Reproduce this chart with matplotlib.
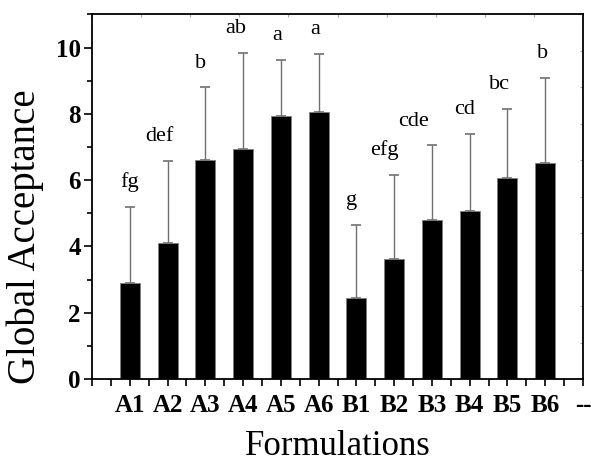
import numpy as np
import matplotlib
matplotlib.use("Agg")
import matplotlib.pyplot as plt
from matplotlib.ticker import FixedLocator

# Data
categories = ["A1", "A2", "A3", "A4", "A5", "A6", "B1", "B2", "B3", "B4", "B5", "B6"]
means = [2.89, 4.10, 6.62, 6.94, 7.95, 8.07, 2.44, 3.62, 4.80, 5.07, 6.08, 6.53]
upper = [5.19, 6.57, 8.80, 9.84, 9.64, 9.81, 4.65, 6.16, 7.05, 7.39, 8.16, 9.08]
letters = ["fg", "def", "b", "ab", "a", "a", "g", "efg", "cde", "cd", "bc", "b"]
extra_label = "--"

# layout-only tweaks for letter placement (x offset in bar units)
letter_dx = [0.0, -0.22, -0.13, -0.2, -0.1, -0.1, -0.13, -0.25, -0.5, -0.13, -0.2, -0.08]

serif = ["Liberation Serif", "DejaVu Serif"]
plt.rcParams["font.family"] = serif

fig = plt.figure(figsize=(5.91, 4.63), dpi=100)
ax = fig.add_axes([0.1557, 0.1814, 0.9865 - 0.1557, 0.9687 - 0.1814])

x = np.arange(1, len(categories) + 1)
err = [u - m for u, m in zip(upper, means)]

ax.bar(x, means, width=0.53, color="black", edgecolor="#808080", linewidth=0.6, zorder=2)
eb = ax.errorbar(x, means, yerr=[np.zeros(len(err)), err], fmt="none",
                 ecolor="#707070", elinewidth=1.0, capsize=3.5, capthick=1.2, zorder=1)
for cap in eb[1]:
    cap.set_color("#222222")

for xi, u, lab, dx in zip(x, upper, letters, letter_dx):
    ax.text(xi + dx, u + 0.6, lab, ha="center", va="baseline", fontsize=16, family=serif)

ax.set_xlim(0, len(categories) + 1)
ax.set_ylim(0, 11)

ax.set_xticks(list(x) + [len(categories) + 1])
ax.set_xticklabels(categories + [extra_label], fontweight="bold", fontsize=18)
ax.xaxis.set_minor_locator(FixedLocator(np.arange(0, len(categories) + 1.01, 0.5)))
ax.tick_params(axis="x", which="both", direction="out", length=5, width=1.2, pad=6)

ax.set_yticks([0, 2, 4, 6, 8, 10])
ax.set_yticklabels(["0", "2", "4", "6", "8", "10"], fontweight="bold", fontsize=18)
ax.yaxis.set_minor_locator(FixedLocator([1, 3, 5, 7, 9, 11]))
ax.tick_params(axis="y", which="major", direction="out", length=6, width=1.2, pad=2)
ax.tick_params(axis="y", which="minor", direction="out", length=3.5, width=1.2)

for s in ax.spines.values():
    s.set_linewidth(1.3)
    s.set_color("black")

secx = ax.secondary_xaxis("top")
secx.set_xticks(np.linspace(0, len(categories) + 1, 11))
secx.tick_params(direction="in", length=2.5, width=0.8, color="#aaaaaa", labeltop=False)
secx.spines["top"].set_visible(False)
secy = ax.secondary_yaxis("right")
secy.set_yticks(np.linspace(0, 11, 11))
secy.tick_params(direction="in", length=2.5, width=0.8, color="#aaaaaa", labelright=False)
secy.spines["right"].set_visible(False)

ax.set_ylabel("Global Acceptance", fontsize=28)
ax.yaxis.set_label_coords(-0.098, 0.39)
ax.set_xlabel("Formulations", fontsize=25)
ax.xaxis.set_label_coords(0.5, -0.14)

fig.savefig("out.png", dpi=100)
